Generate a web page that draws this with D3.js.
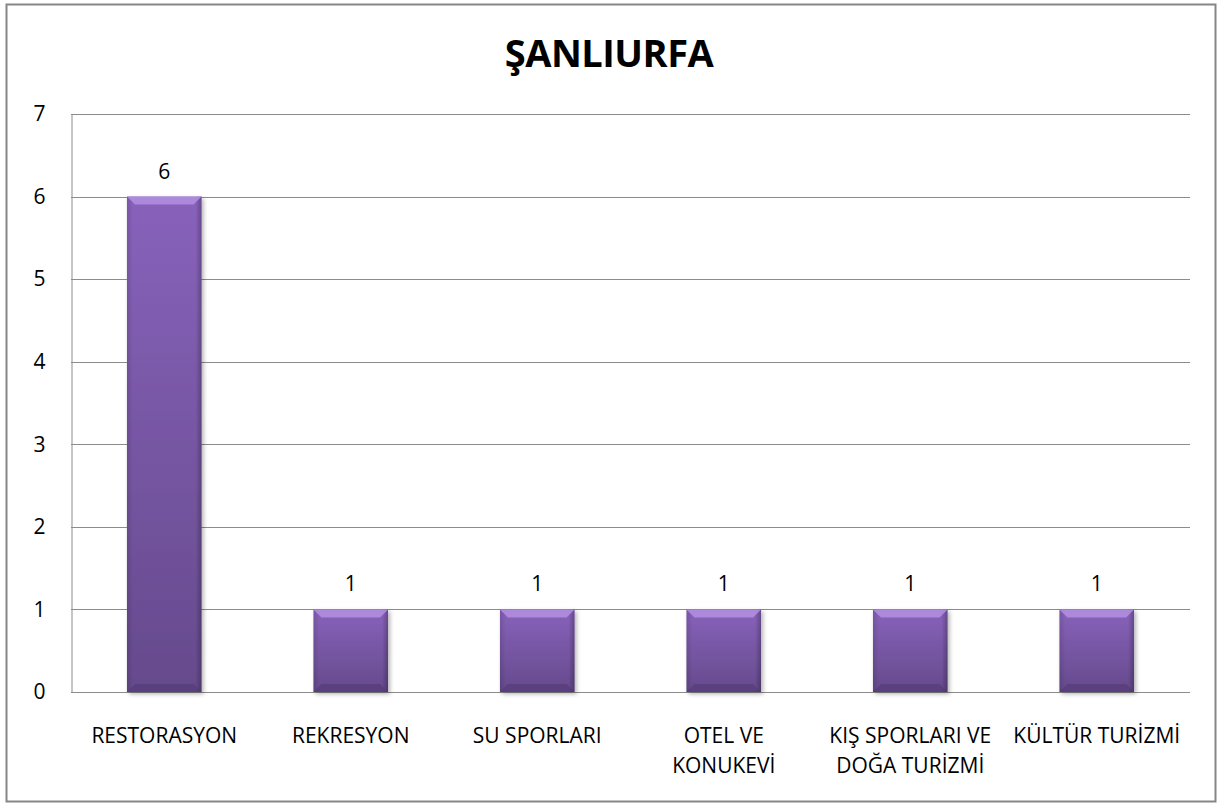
<!DOCTYPE html>
<html>
<head>
<meta charset="utf-8">
<script src="https://cdn.jsdelivr.net/npm/d3@7"></script>
<style>
  body { margin: 0; background: #fff; }
  text { font-family: "Open Sans", sans-serif; fill: #000; }
</style>
</head>
<body>
<div id="chart"></div>
<script>
const categories = [
  ["RESTORASYON"],
  ["REKRESYON"],
  ["SU SPORLARI"],
  ["OTEL VE", "KONUKEVİ"],
  ["KIŞ SPORLARI VE", "DOĞA TURİZMİ"],
  ["KÜLTÜR TURİZMİ"],
];
const values = [6, 1, 1, 1, 1, 1];
const yTicks = [0, 1, 2, 3, 4, 5, 6, 7];
const title = "ŞANLIURFA";

const W = 1218, H = 806;
const margin = { top: 114, right: 28, bottom: 114, left: 71 };
const fs = 21;

const svg = d3.select("#chart").append("svg")
  .attr("width", W).attr("height", H);

// outer frame
svg.append("rect")
  .attr("x", 6.5).attr("y", 4.5)
  .attr("width", 1209).attr("height", 797)
  .attr("fill", "#fff").attr("stroke", "#868686").attr("stroke-width", 2);

const x = d3.scaleBand()
  .domain(d3.range(categories.length))
  .range([margin.left, W - margin.right])
  .paddingInner(0.6).paddingOuter(0.3);

const y = d3.scaleLinear()
  .domain([0, 7])
  .range([H - margin.bottom, margin.top]);

const defs = svg.append("defs");
const grad = defs.append("linearGradient").attr("id", "barFill")
  .attr("x1", 0).attr("y1", 0).attr("x2", 0).attr("y2", 1);
grad.append("stop").attr("offset", "0%").attr("stop-color", "#8862bb");
grad.append("stop").attr("offset", "100%").attr("stop-color", "#654a8c");

const side = defs.append("linearGradient").attr("id", "sideFill")
  .attr("x1", 0).attr("y1", 0).attr("x2", 1).attr("y2", 0);
side.append("stop").attr("offset", "0%").attr("stop-color", "#000").attr("stop-opacity", 0.12);
side.append("stop").attr("offset", "8%").attr("stop-color", "#000").attr("stop-opacity", 0);
side.append("stop").attr("offset", "92%").attr("stop-color", "#000").attr("stop-opacity", 0);
side.append("stop").attr("offset", "100%").attr("stop-color", "#000").attr("stop-opacity", 0.25);

const shadow = defs.append("filter").attr("id", "shadow")
  .attr("x", "-10%").attr("y", "-10%").attr("width", "130%").attr("height", "130%");
shadow.append("feDropShadow").attr("dx", 2).attr("dy", 2).attr("stdDeviation", 2)
  .attr("flood-color", "#000").attr("flood-opacity", 0.3);

// gridlines
svg.append("g")
  .selectAll("line")
  .data(yTicks)
  .join("line")
  .attr("x1", margin.left).attr("x2", W - margin.right)
  .attr("y1", d => Math.round(y(d)) + 0.5).attr("y2", d => Math.round(y(d)) + 0.5)
  .attr("stroke", "#8c8c8c").attr("stroke-width", 1);

// y axis
const yAxis = svg.append("g")
  .attr("transform", `translate(${margin.left + 0.5},0)`)
  .call(d3.axisLeft(y).tickValues(yTicks).tickFormat(d3.format("d"))
    .tickSize(0).tickPadding(26));
yAxis.attr("font-size", null).attr("font-family", null);
yAxis.select(".domain").attr("stroke", "#8c8c8c");
yAxis.selectAll("text").attr("font-size", fs).attr("fill", "#000");

// bars
const bars = svg.append("g").selectAll("g")
  .data(values)
  .join("g")
  .attr("transform", (d, i) => `translate(${x(i)},0)`);

const bw = x.bandwidth();
const bev = 8;

bars.append("rect")
  .attr("x", 0).attr("y", d => y(d))
  .attr("width", bw).attr("height", d => y(0) - y(d))
  .attr("fill", "url(#barFill)")
  .attr("filter", "url(#shadow)");

bars.append("rect")
  .attr("x", 0).attr("y", d => y(d))
  .attr("width", bw).attr("height", d => y(0) - y(d))
  .attr("fill", "url(#sideFill)");

// top bevel
bars.append("path")
  .attr("d", d => {
    const t = y(d);
    return `M0,${t} L${bw},${t} L${bw - bev},${t + bev} L${bev},${t + bev} Z`;
  })
  .attr("fill", "#b391e0").attr("opacity", 0.85);

// bottom bevel
bars.append("path")
  .attr("d", () => {
    const b = y(0);
    return `M0,${b} L${bw},${b} L${bw - bev},${b - bev} L${bev},${b - bev} Z`;
  })
  .attr("fill", "#4e3670").attr("opacity", 0.5);

// value labels
bars.append("text")
  .attr("x", bw / 2).attr("y", d => y(d) - 18)
  .attr("text-anchor", "middle").attr("font-size", fs)
  .text(d => d);

// category labels
const cat = svg.append("g").selectAll("text")
  .data(categories)
  .join("text")
  .attr("x", (d, i) => x(i) + bw / 2)
  .attr("y", y(0) + 51)
  .attr("text-anchor", "middle").attr("font-size", fs)
  .attr("letter-spacing", 0);
cat.selectAll("tspan")
  .data(d => d)
  .join("tspan")
  .attr("x", function () { return d3.select(this.parentNode).attr("x"); })
  .attr("dy", (d, i) => i === 0 ? 0 : 30)
  .text(d => d);

// title
svg.append("text")
  .attr("x", W / 2).attr("y", 67)
  .attr("text-anchor", "middle")
  .attr("font-size", 38).attr("font-weight", "bold")
  .attr("letter-spacing", -0.5)
  .text(title);
</script>
</body>
</html>
